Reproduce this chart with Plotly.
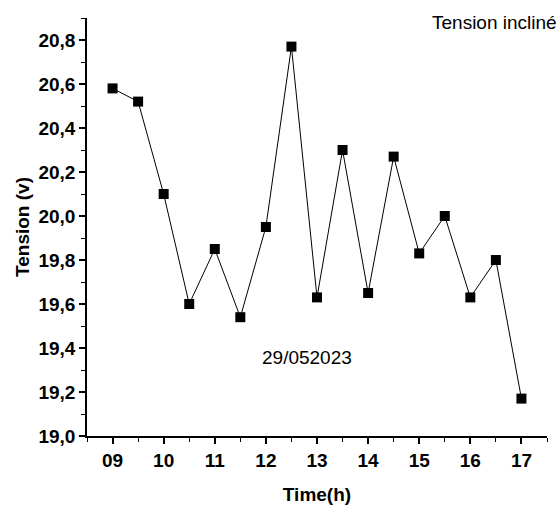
import plotly.graph_objects as go

time_h = [9, 9.5, 10, 10.5, 11, 11.5, 12, 12.5, 13, 13.5, 14, 14.5, 15, 15.5, 16, 16.5, 17]
tension = [20.58, 20.52, 20.10, 19.60, 19.85, 19.54, 19.95, 20.77, 19.63, 20.30,
           19.65, 20.27, 19.83, 20.00, 19.63, 19.80, 19.17]

FONT = "Liberation Sans, Arial, sans-serif"

fig = go.Figure()
fig.add_trace(go.Scatter(
    x=time_h, y=tension, mode="lines+markers",
    line=dict(color="black", width=1),
    marker=dict(symbol="square", size=10, color="black"),
    showlegend=False,
))

fig.update_layout(
    width=560, height=509,
    margin=dict(l=87, r=13, t=18, b=73),
    plot_bgcolor="white", paper_bgcolor="white",
    separators=",.",
    font=dict(family=FONT, size=19, color="black"),
    xaxis=dict(
        range=[8.5, 17.5], tick0=9, dtick=1, tickformat="02d",
        showline=True, linecolor="black", linewidth=1.5,
        ticks="outside", ticklen=6, tickwidth=1.5, tickcolor="black",
        minor=dict(dtick=0.5, tick0=9, ticks="outside", ticklen=4, tickwidth=1.2, tickcolor="black"),
        showgrid=False, zeroline=False, automargin=False,
        tickfont=dict(family=FONT, size=19, weight="bold"),
        title=dict(text="<b>Time(h)</b>", font=dict(size=19), standoff=18),
    ),
    yaxis=dict(
        range=[19.0, 20.9], tick0=19.0, dtick=0.2, tickformat=".1f",
        showline=True, linecolor="black", linewidth=1.5,
        ticks="outside", ticklen=6, tickwidth=1.5, tickcolor="black",
        minor=dict(dtick=0.1, tick0=19.0, ticks="outside", ticklen=4, tickwidth=1.2, tickcolor="black"),
        showgrid=False, zeroline=False, automargin=False,
        tickfont=dict(family=FONT, size=19, weight="bold"),
        title=dict(text="<b>Tension (v)</b>", font=dict(size=19), standoff=4),
    ),
    annotations=[
        dict(text="Tension incliné", xref="paper", yref="paper", x=0.745, y=0.99,
             xanchor="left", yanchor="middle", showarrow=False,
             font=dict(family=FONT, size=19, color="black")),
        dict(text="29/052023", xref="x", yref="y", x=12.8, y=19.355,
             xanchor="center", yanchor="middle", showarrow=False,
             font=dict(family=FONT, size=19, color="black")),
    ],
)

fig.write_html("out.html")
